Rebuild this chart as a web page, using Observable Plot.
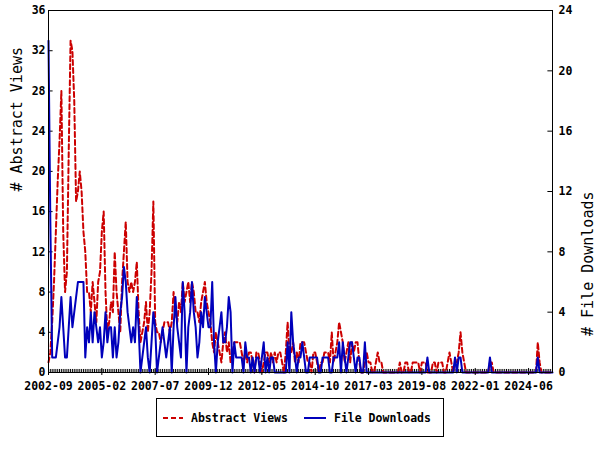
<!DOCTYPE html>
<html><head><meta charset="utf-8">
<script src="https://cdn.jsdelivr.net/npm/d3@7"></script>
<script src="https://cdn.jsdelivr.net/npm/@observablehq/plot@0.6"></script>
<style>
body{margin:0;background:#fff;font-family:"DejaVu Sans Mono",monospace;}
#chart{position:absolute;left:0;top:0;}
#legend{position:absolute;left:156px;top:398px;width:288px;height:39px;border:1px solid #000;box-sizing:border-box;font-weight:bold;font-size:11.5px;}
#legend .it{position:absolute;top:0;height:37px;display:flex;align-items:center;}
#legend svg{margin-right:8px;}
</style></head>
<body>
<div id="chart"></div>
<div id="legend">
 <div class="it" style="left:6px"><svg width="20" height="4"><line x1="0" y1="2" x2="20" y2="2" stroke="#cc0000" stroke-width="2" stroke-dasharray="5,3"/></svg>Abstract Views</div>
 <div class="it" style="left:147px"><svg width="22" height="4"><line x1="0" y1="2" x2="22" y2="2" stroke="#0000bb" stroke-width="2"/></svg>File Downloads</div>
</div>
<script>
// monthly values, 2002-09 .. 2025-07
const views = [
 1,2,5,9,14,19,23,28,14,8,
 10,22,33,32,27,17,18,20,18,14,
 12,8,8,6,9,7,5,9,10,14,
 16,8,4,5,7,6,12,8,6,4,
 9,12,15,9,8,9,8,9,11,6,
 3,4,5,7,4,6,10,17,5,4,
 4,3,4,5,5,5,4,5,8,6,
 5,7,6,9,7,8,9,7,9,8,
 6,6,5,7,8,9,7,6,5,3,
 2,4,3,2,1,3,4,2,3,1,
 2,3,3,3,3,2,1,2,1,2,
 2,1,0,2,2,1,0,1,2,2,
 1,2,1,2,1,2,2,1,0,2,
 5,2,2,3,1,2,1,3,3,3,
 2,1,1,0,2,2,1,0,1,1,
 2,2,2,1,4,1,2,3,5,4,
 3,1,2,3,1,3,2,3,3,1,
 0,0,1,2,1,1,0,0,1,2,
 1,1,0,0,0,0,0,0,0,0,
 0,1,0,0,1,1,0,0,1,1,
 1,1,0,1,1,1,0,0,0,1,
 1,0,1,1,1,0,0,1,2,1,
 0,1,1,2,4,2,1,0,0,0,
 0,0,0,0,0,0,0,0,0,0,
 1,1,0,0,0,0,0,0,0,0,
 0,0,0,0,0,0,0,0,0,0,
 0,0,0,0,0,0,3,1,0,0,
 0,0,0,0,0
];
const downloads = [
 22,10,1,1,1,2,3,5,3,1,
 1,3,5,3,4,5,6,6,6,6,
 1,3,2,4,2,4,3,2,3,1,
 2,4,2,3,3,1,3,1,2,4,
 5,7,6,4,3,2,3,2,5,3,
 0,1,2,3,1,0,2,4,3,0,
 1,2,3,2,1,2,3,0,3,5,
 3,2,1,6,4,0,3,4,6,4,
 3,1,2,4,3,5,4,3,3,6,
 2,0,2,3,4,2,2,3,5,4,
 0,2,1,1,1,1,0,2,1,1,
 0,1,0,1,1,0,1,2,0,1,
 0,1,1,0,0,0,0,0,0,0,
 2,0,4,2,1,0,1,1,2,1,
 0,0,1,1,1,1,1,0,0,1,
 1,1,1,0,0,1,1,1,2,0,
 2,1,0,1,2,2,1,0,1,1,
 0,0,2,0,0,0,0,0,0,0,
 0,0,0,0,0,0,0,0,0,0,
 0,0,0,0,0,0,0,0,0,0,
 0,0,0,0,0,0,1,0,0,0,
 0,0,0,0,0,0,0,0,0,0,
 0,1,0,1,1,0,0,0,0,0,
 0,0,0,0,0,0,0,0,0,0,
 1,0,0,0,0,0,0,0,0,0,
 0,0,0,0,0,0,0,0,0,0,
 0,0,0,0,0,0,1,0,0,0,
 0,0,0,0,0
];
const xLabels = ["2002-09","2005-02","2007-07","2009-12","2012-05","2014-10","2017-03","2019-08","2022-01","2024-06"];
const xLabelMonths = [0,29,58,87,116,145,174,203,232,261];
const leftTicks = [0,4,8,12,16,20,24,28,32,36];
const rightTicks = [0,4,8,12,16,20,24];
const leftMax = 36, rightMax = 24;

const ratio = leftMax / rightMax;
const months = d3.range(views.length);
const rows = months.map(i => ({i, v: views[i], d: downloads[i] * ratio}));
const last = months.length - 1;

const chart = Plot.plot({
  width: 600, height: 396,
  marginTop: 10, marginBottom: 24, marginLeft: 48, marginRight: 48,
  x: {domain: [0, last]},
  y: {domain: [0, leftMax]},
  style: {fontFamily: "DejaVu Sans Mono", fontSize: "11.5px", fontWeight: "bold", background: "#fff", color: "#000"},
  marks: [
    Plot.ruleX(months, {x: d => d, y1: 0, y2: 0.3, stroke: "#000"}),
    Plot.ruleX(xLabelMonths, {x: d => d, y1: 0, y2: 0.4, stroke: "#000"}),
    Plot.ruleY(leftTicks, {y: d => d, x1: 0, x2: 2.5, stroke: "#000"}),
    Plot.ruleY(rightTicks.map(t => t * ratio), {y: d => d, x1: last - 2.5, x2: last, stroke: "#000"}),
    Plot.lineY(rows, {x: "i", y: "v", stroke: "#cc0000", strokeWidth: 2, strokeDasharray: "5,3"}),
    Plot.lineY(rows, {x: "i", y: "d", stroke: "#0000bb", strokeWidth: 2}),
    Plot.frame({stroke: "#000"}),
    Plot.axisX({ticks: xLabelMonths, tickFormat: d => xLabels[xLabelMonths.indexOf(d)], tickSize: 3, tickPadding: 6, label: null}),
    Plot.axisY({anchor: "left", ticks: leftTicks, tickSize: 0, tickPadding: 3, label: null}),
    Plot.axisY({anchor: "right", ticks: rightTicks.map(t => t * ratio), tickFormat: d => String(Math.round(d / ratio)), tickSize: 0, tickPadding: 6, label: null}),
    Plot.text(["# Abstract Views"], {frameAnchor: "left", rotate: -90, dx: -31, fontSize: 15, fontWeight: "normal"}),
    Plot.text(["# File Downloads"], {frameAnchor: "right", rotate: -90, dx: 36, fontSize: 15, fontWeight: "normal"})
  ]
});
document.getElementById("chart").appendChild(chart);
</script>
</body></html>
